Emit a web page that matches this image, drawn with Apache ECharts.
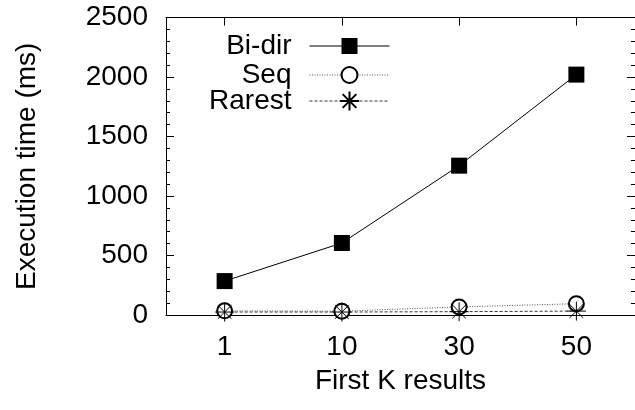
<!DOCTYPE html>
<html>
<head>
<meta charset="utf-8">
<script src="https://cdn.jsdelivr.net/npm/echarts@6/dist/echarts.min.js"></script>
<style>
  html, body { margin: 0; padding: 0; background: #fff; }
  #chart { width: 635px; height: 410px; }
</style>
</head>
<body>
<div id="chart"></div>
<script>
// Query execution time for the first K results, per strategy
const kLabels = ['1', '10', '30', '50'];
const biDir = [285, 605, 1255, 2020];
const seq = [35, 32, 68, 95];
const rarest = [25, 25, 28, 33];
const yTicks = { min: 0, max: 2500, step: 500 };

const FONT = '"Liberation Sans", Arial, sans-serif';
const FS = 28;
const ASTERISK = 'path://M0,8L16,8M8,0L8,16M2.3,2.3L13.7,13.7M2.3,13.7L13.7,2.3';

const chart = echarts.init(document.getElementById('chart'), null, { renderer: 'canvas' });

const legendRow = (name, top, itemHeight) => ({
  data: [name],
  orient: 'vertical',
  align: 'right',
  right: 245,
  top: top,
  padding: 0,
  itemWidth: 80,
  itemHeight: itemHeight,
  selectedMode: false,
  lineStyle: { width: 1 },
  textStyle: { fontFamily: FONT, fontSize: FS, color: '#000', padding: [0, 13, 0, 0] }
});

const yAxisBase = {
  type: 'value',
  min: yTicks.min,
  max: yTicks.max,
  interval: yTicks.step,
  splitLine: { show: false },
  axisLine: { show: true, lineStyle: { color: '#000', width: 1 } },
  axisTick: { show: true, inside: true, length: 8, lineStyle: { color: '#000' } },
  minorTick: { show: true, splitNumber: 5, length: 4, lineStyle: { color: '#000' } }
};

const xAxisBase = {
  type: 'category',
  data: kLabels,
  boundaryGap: true,
  axisLine: { show: true, onZero: false, lineStyle: { color: '#000', width: 1 } },
  axisTick: { show: true, inside: true, alignWithLabel: true, length: 8, lineStyle: { color: '#000' } },
  splitLine: { show: false }
};

chart.setOption({
  backgroundColor: '#fff',
  animation: false,
  grid: { left: 166, right: 0, top: 17.5, bottom: 95, containLabel: false },
  legend: [
    legendRow('Bi-dir', 32, 20),
    legendRow('Seq', 61, 20),
    legendRow('Rarest', 87, 24)
  ],
  xAxis: [
    Object.assign({}, xAxisBase, {
      position: 'bottom',
      name: 'First K results',
      nameLocation: 'middle',
      nameGap: 52,
      nameTextStyle: { fontFamily: FONT, fontSize: FS, color: '#000' },
      axisLabel: { show: true, fontFamily: FONT, fontSize: FS, color: '#000', margin: 18 }
    }),
    Object.assign({}, xAxisBase, {
      position: 'top',
      axisLabel: { show: false }
    })
  ],
  yAxis: [
    Object.assign({}, yAxisBase, {
      position: 'left',
      name: 'Execution time (ms)',
      nameLocation: 'middle',
      nameGap: 125,
      nameTextStyle: { fontFamily: FONT, fontSize: FS, color: '#000' },
      axisLabel: {
        show: true, fontFamily: FONT, fontSize: FS, color: '#000', margin: 18,
        formatter: (v) => String(v)
      }
    }),
    Object.assign({}, yAxisBase, {
      position: 'right',
      axisLabel: { show: false }
    })
  ],
  series: [
    {
      name: 'Bi-dir',
      type: 'line',
      data: biDir,
      symbol: 'rect',
      symbolSize: 16,
      itemStyle: { color: '#000' },
      lineStyle: { color: '#000', width: 1, type: 'solid' },
      z: 3
    },
    {
      name: 'Seq',
      type: 'line',
      data: seq,
      symbol: 'emptyCircle',
      symbolSize: 15,
      itemStyle: { color: '#000', borderColor: '#333', borderWidth: 1 },
      lineStyle: { color: '#555', width: 1, type: [1, 1.5] },
      z: 2
    },
    {
      name: 'Rarest',
      type: 'line',
      data: rarest,
      symbol: ASTERISK,
      symbolSize: 19,
      itemStyle: { color: 'rgba(0,0,0,0)', borderColor: '#000', borderWidth: 1 },
      lineStyle: { color: '#333', width: 1, type: [3, 2] },
      z: 2
    }
  ]
});
</script>
</body>
</html>
